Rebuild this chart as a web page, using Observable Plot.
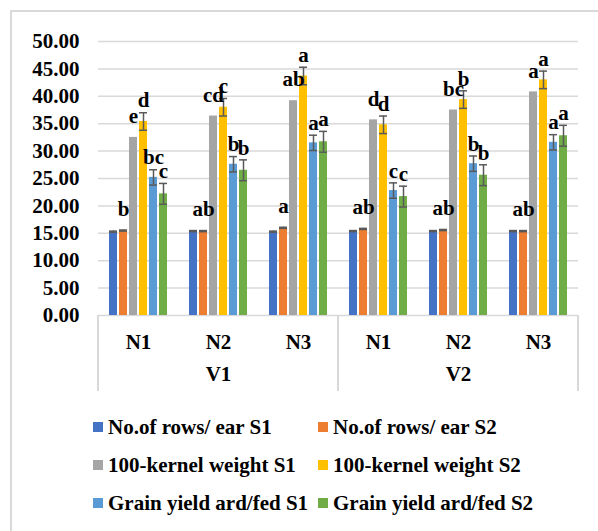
<!DOCTYPE html>
<html><head><meta charset="utf-8">
<script src="https://cdn.jsdelivr.net/npm/d3@7"></script>
<script src="https://cdn.jsdelivr.net/npm/@observablehq/plot@0.6"></script>
<style>
body{margin:0;background:#fff;}
#wrap{position:relative;width:598px;height:531px;overflow:hidden;font-family:'Liberation Serif','Times New Roman',serif;font-weight:bold;color:#000;}
#frame{position:absolute;left:10px;top:10px;width:700px;height:700px;border-left:2px solid #d9d9d9;border-top:2px solid #d9d9d9;}
#chart{position:absolute;left:0;top:0;}
#legend{position:absolute;left:93px;top:408px;width:470px;display:grid;grid-template-columns:225px 245px;}
.item{display:flex;align-items:center;height:38px;font-size:21px;white-space:nowrap;}
.sw{width:10px;height:10px;margin-right:5px;flex:none;}
</style></head>
<body><div id="wrap"><div id="frame"></div><div id="chart"></div><div id="legend"></div></div>
<script>
// ---- data ----
const groups = ["V1 N1", "V1 N2", "V1 N3", "V2 N1", "V2 N2", "V2 N3"];
const varieties = ["V1", "V2"];
const series = ["No.of rows/ ear S1", "No.of rows/ ear S2", "100-kernel weight S1", "100-kernel weight S2", "Grain yield ard/fed S1", "Grain yield ard/fed S2"];
const colors = ["#4472C4", "#ED7D31", "#A5A5A5", "#FFC000", "#5B9BD5", "#70AD47"];
const yTicks = [0, 5, 10, 15, 20, 25, 30, 35, 40, 45, 50];

const rowsS1   = [15.3, 15.4, 15.3, 15.4, 15.4, 15.4];
const rowsS2   = [15.5, 15.4, 16.0, 15.8, 15.6, 15.4];
const kernelS1 = [32.5, 36.4, 39.2, 35.7, 37.5, 40.8];
const kernelS2 = [35.4, 38.0, 43.7, 34.8, 39.4, 43.0];
const yieldS1  = [25.2, 27.6, 31.5, 22.8, 27.7, 31.6];
const yieldS2  = [22.2, 26.5, 31.7, 21.7, 25.6, 32.8];

const errRowsS1   = [0.1, 0.1, 0.1, 0.1, 0.1, 0.1];
const errRowsS2   = [0.1, 0.1, 0.1, 0.1, 0.1, 0.1];
const errKernelS1 = [null, null, null, null, null, null];
const errKernelS2 = [1.6, 1.6, 1.6, 1.6, 1.6, 1.6];
const errYieldS1  = [1.4, 1.4, 1.4, 1.4, 1.4, 1.4];
const errYieldS2  = [1.9, 1.9, 1.9, 1.9, 1.9, 1.9];

const lblRowsS1   = ["", "", "", "", "", ""];
const lblRowsS2   = ["b", "ab", "a", "ab", "ab", "ab"];
const lblKernelS1 = ["e", "cd", "ab", "d", "bc", "a"];
const lblKernelS2 = ["d", "c", "a", "d", "b", "a"];
const lblYieldS1  = ["bc", "b", "a", "c", "b", "a"];
const lblYieldS2  = ["c", "b", "a", "c", "b", "a"];

// ---- table built from arrays ----
const values = [rowsS1, rowsS2, kernelS1, kernelS2, yieldS1, yieldS2];
const errors = [errRowsS1, errRowsS2, errKernelS1, errKernelS2, errYieldS1, errYieldS2];
const labels = [lblRowsS1, lblRowsS2, lblKernelS1, lblKernelS2, lblYieldS1, lblYieldS2];
const labelFar = [true, true, true, false, false, false];
const table = [];
series.forEach((s, i) => groups.forEach((g, j) => table.push({
  group: g, series: s, value: values[i][j], err: errors[i][j], label: labels[i][j], far: labelFar[i]
})));
const errTable = table.filter(d => d.err != null);
const barTop = d => d.value + (d.err || 0);
const vLabels = varieties.map(v => ({fx: v + " N2", text: v}));

const plot = Plot.plot({
  width: 598,
  height: 400,
  marginTop: 41,
  marginBottom: 85,
  marginLeft: 95,
  marginRight: 18,
  style: {fontFamily: "'Liberation Serif','Times New Roman',serif", fontSize: "21px", fontWeight: "bold", color: "#000", background: "transparent", overflow: "visible"},
  fx: {domain: groups, padding: 0, axis: "bottom", label: null, tickSize: 0, tickPadding: 19, tickFormat: d => d.split(" ")[1]},
  x: {domain: series, axis: null, paddingInner: 0.25, paddingOuter: 0.9},
  y: {domain: [0, 50], ticks: yTicks, tickFormat: d => d.toFixed(2), tickSize: 0, tickPadding: 19, label: null},
  color: {domain: series, range: colors},
  marks: [
    Plot.ruleY(yTicks, {stroke: "#d9d9d9", strokeWidth: 1.5}),
    Plot.barY(table, {fx: "group", x: "series", y: "value", fill: "series"}),
    Plot.ruleX(errTable, {fx: "group", x: "series", y1: d => d.value - d.err, y2: d => d.value + d.err, stroke: "#595959", strokeWidth: 1.5}),
    Plot.tickY(errTable, {fx: "group", x: "series", y: d => d.value - d.err, stroke: "#595959", strokeWidth: 1.5}),
    Plot.tickY(errTable, {fx: "group", x: "series", y: d => d.value + d.err, stroke: "#595959", strokeWidth: 1.5}),
    Plot.text(table.filter(d => d.label && d.far), {fx: "group", x: "series", y: barTop, text: "label", dy: -21}),
    Plot.text(table.filter(d => d.label && !d.far), {fx: "group", x: "series", y: barTop, text: "label", dy: -12}),
    Plot.text(vLabels, {fx: "fx", text: "text", frameAnchor: "bottom", dy: 65})
  ]
});
document.getElementById("chart").appendChild(plot);

// category box lines drawn from the plot's own scales
const fxs = plot.scale("fx"), ys = plot.scale("y");
const y0 = ys.apply(0);
const boxX = [fxs.apply(groups[0]), fxs.apply(groups[3]), fxs.apply(groups[5]) + fxs.bandwidth];
d3.select(plot).append("g").selectAll("line").data(boxX).join("line")
  .attr("x1", d => d).attr("x2", d => d)
  .attr("y1", y0).attr("y2", y0 + 76)
  .attr("stroke", "#d9d9d9").attr("stroke-width", 2);

// legend
const legend = d3.select("#legend");
series.forEach((s, i) => {
  const it = legend.append("div").attr("class", "item");
  it.append("div").attr("class", "sw").style("background", colors[i]);
  it.append("span").text(s);
});
</script>
</body></html>
